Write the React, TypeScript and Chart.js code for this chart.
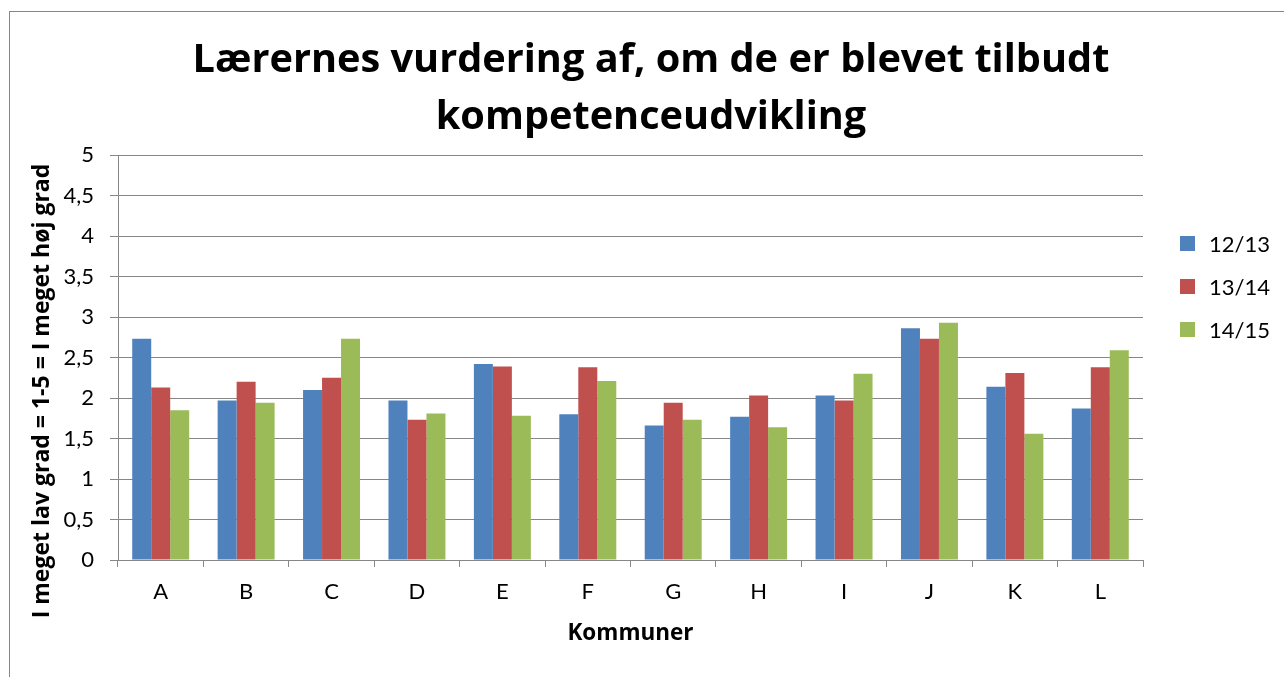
import React, { useEffect, useRef } from "react";
import { Chart, registerables } from "chart.js";

Chart.register(...registerables);

const titleLines = ["Lærernes vurdering af, om de er blevet tilbudt", "kompetenceudvikling"];
const yAxisTitle = "I meget lav grad = 1-5 = I meget høj grad";
const xAxisTitle = "Kommuner";
const categories = ["A", "B", "C", "D", "E", "F", "G", "H", "I", "J", "K", "L"];
const seriesNames = ["12/13", "13/14", "14/15"];
const values1213 = [2.73, 1.97, 2.1, 1.97, 2.42, 1.8, 1.66, 1.77, 2.03, 2.86, 2.14, 1.87];
const values1314 = [2.13, 2.2, 2.25, 1.73, 2.39, 2.38, 1.94, 2.03, 1.97, 2.73, 2.31, 2.38];
const values1415 = [1.85, 1.94, 2.73, 1.81, 1.78, 2.21, 1.73, 1.64, 2.3, 2.93, 1.56, 2.59];
const seriesColors = ["#4F81BD", "#C0504D", "#9BBB59"];
const yTicks = [0, 0.5, 1, 1.5, 2, 2.5, 3, 3.5, 4, 4.5, 5];

const FONT = "Lato, 'Open Sans', sans-serif";
const BOLD_FONT = "'Open Sans', Lato, sans-serif";

const decorPlugin = {
  id: "decor",
  afterDraw(chart: any) {
    const ctx = chart.ctx;
    ctx.save();
    // Title
    ctx.fillStyle = "#000";
    ctx.font = `bold 39.7px ${BOLD_FONT}`;
    ctx.textAlign = "center";
    ctx.textBaseline = "alphabetic";
    titleLines.forEach((line, i) => {
      ctx.fillText(line, 651, 72 + i * 57);
    });
    // Y axis title
    ctx.save();
    ctx.translate(49, 391);
    ctx.rotate(-Math.PI / 2);
    ctx.font = `bold 23px ${BOLD_FONT}`;
    ctx.textAlign = "center";
    ctx.textBaseline = "alphabetic";
    ctx.fillText(yAxisTitle, 0, 0);
    ctx.restore();
    // Legend
    ctx.font = `22px ${FONT}`;
    ctx.textAlign = "left";
    ctx.textBaseline = "alphabetic";
    chart.data.datasets.forEach((ds: any, i: number) => {
      const y = 236 + i * 43;
      ctx.fillStyle = ds.backgroundColor;
      ctx.fillRect(1180, y, 15, 15);
      ctx.fillStyle = "#000";
      ctx.fillText(ds.label, 1209, y + 16);
    });
    ctx.restore();
  },
};

export default function App() {
  const canvasRef = useRef<HTMLCanvasElement | null>(null);

  useEffect(() => {
    if (!canvasRef.current) return;
    const chart = new Chart(canvasRef.current, {
      type: "bar",
      data: {
        labels: categories,
        datasets: [values1213, values1314, values1415].map((vals, i) => ({
          label: seriesNames[i],
          data: vals,
          backgroundColor: seriesColors[i],
          borderWidth: 0,
          categoryPercentage: 0.667,
          barPercentage: 1,
        })),
      },
      options: {
        animation: false,
        responsive: false,
        devicePixelRatio: 1,
        layout: { padding: { top: 155, left: 10, right: 141, bottom: 27 } },
        plugins: {
          legend: { display: false },
          title: { display: false },
          tooltip: { enabled: false },
        },
        scales: {
          x: {
            afterFit: (scale: any) => {
              scale.height = 90;
            },
            grid: {
              display: true,
              drawOnChartArea: false,
              drawTicks: true,
              tickLength: 7,
              color: "#878787",
              offset: true,
            },
            border: { display: true, color: "#878787", width: 1 },
            ticks: {
              color: "#000",
              font: { family: FONT, size: 22 },
              padding: 12,
              maxRotation: 0,
            },
            title: {
              display: true,
              text: xAxisTitle,
              color: "#000",
              font: { family: BOLD_FONT, size: 22.5, weight: "bold" },
              padding: { top: 0, bottom: 3 },
            },
          },
          y: {
            min: 0,
            max: 5,
            afterFit: (scale: any) => {
              scale.width = 108;
            },
            afterBuildTicks: (scale: any) => {
              scale.ticks = yTicks.map((v) => ({ value: v }));
            },
            grid: {
              color: "#878787",
              lineWidth: 1,
              tickLength: 8,
              drawTicks: true,
            },
            border: { display: true, color: "#878787", width: 1 },
            ticks: {
              color: "#000",
              font: { family: FONT, size: 22 },
              padding: 16,
              callback: (v: any) => String(v).replace(".", ","),
            },
          },
        },
      },
      plugins: [decorPlugin],
    });
    return () => chart.destroy();
  }, []);

  return (
    <div style={{ position: "fixed", left: 0, top: 0, width: 1284, height: 677, background: "#fff", overflow: "hidden" }}>
      <div
        style={{
          position: "absolute",
          left: 9,
          top: 11,
          width: 1400,
          height: 800,
          borderTop: "1px solid #878787",
          borderLeft: "1px solid #878787",
        }}
      />
      <canvas ref={canvasRef} width={1284} height={677} style={{ position: "absolute", left: 0, top: 0, display: "block" }} />
    </div>
  );
}
